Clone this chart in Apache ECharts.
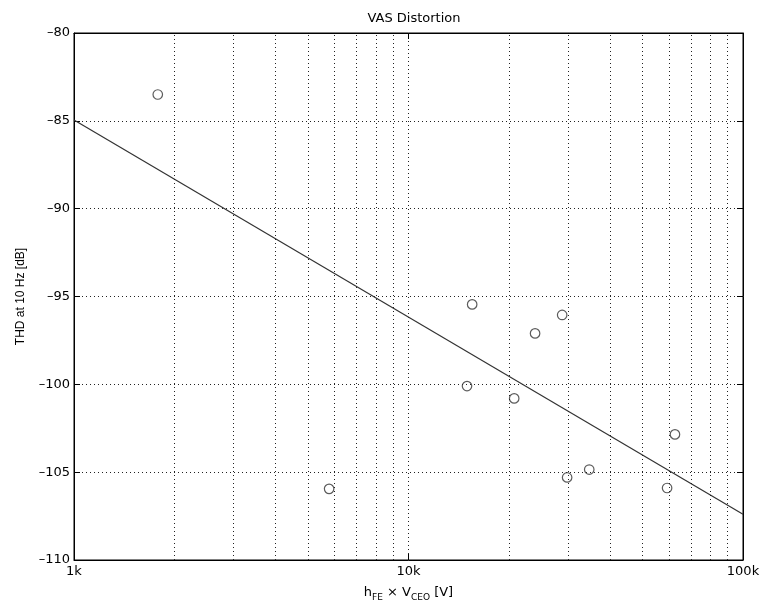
<!DOCTYPE html>
<html>
<head>
<meta charset="utf-8">
<script src="https://cdn.jsdelivr.net/npm/echarts@6/dist/echarts.min.js"></script>
<style>html,body{margin:0;padding:0;background:#fff}#c{width:763px;height:608px}</style>
</head>
<body>
<div id="c"></div>
<script>
// Measured points: hFE x VCEO [V] and THD at 10 Hz [dB]
const pointsX = [1780, 5790, 14960, 15500, 20700, 23900, 28800, 29800, 34700, 59300, 62600];
const pointsY = [-83.5, -105.95, -100.1, -95.45, -100.8, -97.1, -96.05, -105.3, -104.85, -105.9, -102.85];
// Fit line endpoints
const fitX = [1000, 100000];
const fitY = [-84.95, -107.4];
// Axis ranges / ticks
const xMin = 1000, xMax = 100000;
const yMin = -110, yMax = -80, yStep = 5;
const minorGridX = [2000,3000,4000,5000,6000,7000,8000,9000,20000,30000,40000,50000,60000,70000,80000,90000];
const xTickLabels = {1000: '1k', 10000: '10k', 100000: '100k'};

const FONT = '"DejaVu Sans", sans-serif';
const FONT_V = '"Liberation Sans", Arial, sans-serif';
const dotted = {color: '#222', width: 1, type: [1, 3]};

const chart = echarts.init(document.getElementById('c'), null, {renderer: 'canvas'});
chart.setOption({
  animation: false,
  backgroundColor: '#fff',
  title: {
    text: 'VAS Distortion', left: 409, top: 7, textAlign: 'center',
    textStyle: {fontFamily: FONT, fontSize: 13, fontWeight: 'normal', color: '#000'}
  },
  grid: {left: 74, right: 20, top: 33, bottom: 48, show: true, borderColor: '#000', borderWidth: 1, backgroundColor: 'transparent'},
  xAxis: [{
    type: 'log', logBase: 10, min: xMin, max: xMax, position: 'bottom',
    axisLine: {show: true, lineStyle: {color: '#000'}},
    axisTick: {show: true, inside: true, length: 6, lineStyle: {color: '#000'}},
    axisLabel: {fontFamily: FONT, fontSize: 13, color: '#000', margin: 5,
      formatter: v => xTickLabels[Math.round(v)] || ''},
    splitLine: {show: true, lineStyle: dotted},
    name: '{n|h}{s|FE}{n| × V}{s|CEO}{n| [V]}',
    nameLocation: 'middle', nameGap: 26,
    nameTextStyle: {
      rich: {
        n: {fontFamily: FONT, fontSize: 13, color: '#000', verticalAlign: 'top', lineHeight: 16},
        s: {fontFamily: FONT, fontSize: 9, color: '#000', verticalAlign: 'top', lineHeight: 16, padding: [7, 0, 0, 0]}
      }
    }
  }, {
    type: 'log', logBase: 10, min: xMin, max: xMax, position: 'top',
    axisLine: {show: true, lineStyle: {color: '#000'}},
    axisTick: {show: true, inside: true, length: 6, lineStyle: {color: '#000'}},
    axisLabel: {show: false}, splitLine: {show: false}
  }],
  yAxis: [{
    type: 'value', min: yMin, max: yMax, interval: yStep, position: 'left',
    axisLine: {show: true, lineStyle: {color: '#000'}},
    axisTick: {show: true, inside: true, length: 6, lineStyle: {color: '#000'}},
    axisLabel: {fontFamily: FONT, fontSize: 13, color: '#000', margin: 4,
      formatter: v => String(v).replace('-', '\u2013')},
    splitLine: {show: true, lineStyle: dotted},
    name: 'THD at 10 Hz [dB]', nameLocation: 'middle', nameGap: 47, nameRotate: 90,
    nameTextStyle: {fontFamily: FONT_V, fontSize: 12, color: '#000'}
  }, {
    type: 'value', min: yMin, max: yMax, interval: yStep, position: 'right',
    axisLine: {show: true, lineStyle: {color: '#000'}},
    axisTick: {show: true, inside: true, length: 6, lineStyle: {color: '#000'}},
    axisLabel: {show: false}, splitLine: {show: false}
  }],
  series: [{
    type: 'line', xAxisIndex: 0, yAxisIndex: 0, silent: true,
    data: fitX.map((x, i) => [x, fitY[i]]),
    symbol: 'none', lineStyle: {color: '#333', width: 1.2},
    markLine: {
      silent: true, symbol: 'none', label: {show: false},
      lineStyle: dotted,
      data: minorGridX.map(v => ({xAxis: v}))
    }
  }, {
    type: 'scatter', xAxisIndex: 0, yAxisIndex: 0,
    data: pointsX.map((x, i) => [x, pointsY[i]]),
    symbol: 'circle', symbolSize: 9.5,
    itemStyle: {color: 'rgba(255,255,255,0)', borderColor: '#333', borderWidth: 1.2}
  }]
});
</script>
</body>
</html>
